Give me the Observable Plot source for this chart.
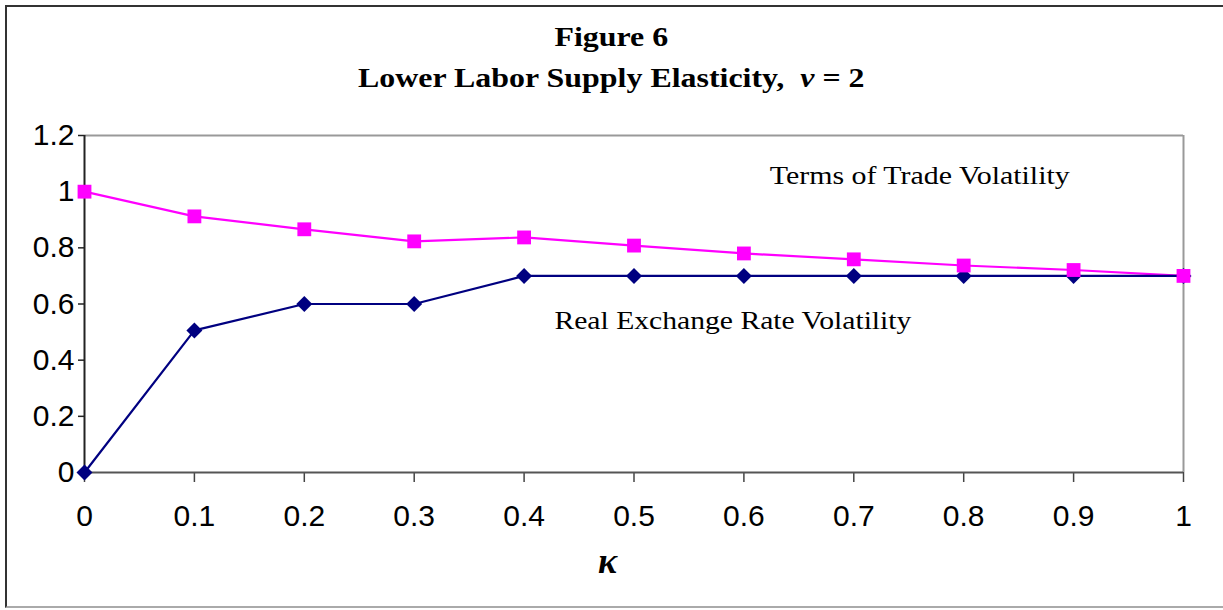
<!DOCTYPE html>
<html>
<head>
<meta charset="utf-8">
<script src="https://cdn.jsdelivr.net/npm/d3@7"></script>
<script src="https://cdn.jsdelivr.net/npm/@observablehq/plot@0.6"></script>
<style>
  html, body { margin: 0; padding: 0; background: #fff; }
  #wrap { position: relative; width: 1223px; height: 610px; overflow: hidden; background:#fff; }
  #frame { position: absolute; left: 5px; top: 5px; width: 1240px; height: 603px;
           border-top: 2px solid #333; border-left: 2px solid #333; border-bottom: 2px solid #aaa; box-sizing: border-box; }
  #title { position: absolute; left: 0; top: 0; width: 1223px; height: 110px; text-align: center;
           font-family: "Liberation Serif", "Times New Roman", serif; font-weight: bold; font-size: 28px; color: #000; }
  #title .l1, #title .l2 { position: absolute; left: 0; right: 0; line-height: 32px; transform: scaleX(1.14); transform-origin: 613px 50%; }
  #title .l1 { top: 21px; }
  #title .l2 { top: 62px; }
  #chart { position: absolute; left: 0; top: 110px; }
  #chart svg { overflow: visible; }
</style>
</head>
<body>
<div id="wrap">
  <div id="frame"></div>
  <div id="title">
    <div class="l1">Figure 6</div>
    <div class="l2">Lower Labor Supply Elasticity,&nbsp; <span style="font-style:italic;font-weight:bold">ν</span> = 2</div>
  </div>
  <div id="chart"></div>
</div>
<script>
const kappa = [0, 0.1, 0.2, 0.3, 0.4, 0.5, 0.6, 0.7, 0.8, 0.9, 1.0];
const termsOfTrade = [1.0, 0.912, 0.866, 0.823, 0.837, 0.808, 0.780, 0.759, 0.737, 0.721, 0.700];
const realExchangeRate = [0, 0.506, 0.600, 0.600, 0.700, 0.700, 0.700, 0.700, 0.700, 0.700, 0.700];
const xTicks = [0, 0.1, 0.2, 0.3, 0.4, 0.5, 0.6, 0.7, 0.8, 0.9, 1];
const yTicks = [0, 0.2, 0.4, 0.6, 0.8, 1, 1.2];
const seriesLabels = ["Terms of Trade Volatility", "Real Exchange Rate Volatility"];
const labelX = [0.76, 0.59];
const labelY = [1.058, 0.541];
const labelWidths = [300, 357];
const xAxisTitle = "κ";
const xAxisTitleX = 0.476;

const tot = kappa.map((k, i) => ({k, v: termsOfTrade[i]}));
const rer = kappa.map((k, i) => ({k, v: realExchangeRate[i]}));
const labels = seriesLabels.map((t, i) => ({t, x: labelX[i], y: labelY[i]}));

const plot = Plot.plot({
  width: 1223,
  height: 500,
  marginTop: 25,
  marginBottom: 138,
  marginLeft: 84,
  marginRight: 40,
  style: {background: "transparent", fontFamily: "'Liberation Sans', Arial, sans-serif", fontSize: "30px", color: "#000"},
  x: {domain: [0, 1]},
  y: {domain: [0, 1.2]},
  marks: [
    Plot.ruleY([1.2], {stroke: "#999", strokeWidth: 2}),
    Plot.ruleX([1], {stroke: "#999", strokeWidth: 2}),
    Plot.axisY({ticks: yTicks, tickSize: 6, tickPadding: 4, tickFormat: d3.format("~g"), label: null, stroke: "#222", strokeWidth: 1.5, fontSize: 30}),
    Plot.axisX({ticks: xTicks, tickSize: 10, tickPadding: 22, tickFormat: d3.format("~g"), label: null, stroke: "#444", strokeWidth: 1.5, fontSize: 30}),
    Plot.ruleY([0], {stroke: "#555", strokeWidth: 2}),
    Plot.ruleX([0], {stroke: "#222", strokeWidth: 2}),
    Plot.line(tot, {x: "k", y: "v", stroke: "#FF00FF", strokeWidth: 2.2}),
    Plot.line(rer, {x: "k", y: "v", stroke: "#000080", strokeWidth: 2.2}),
    Plot.dot(rer, {x: "k", y: "v", symbol: "diamond2", r: 7.2, fill: "#000080", stroke: "none"}),
    Plot.dot(tot, {x: "k", y: "v", symbol: "square", r: 7.8, fill: "#FF00FF", stroke: "none"}),
    Plot.text(labels, {x: "x", y: "y", text: "t", fontFamily: "'Liberation Serif', 'Times New Roman', serif", fontSize: 26, fill: "#000", textAnchor: "middle", className: "series-label"}),
    Plot.text([xAxisTitle], {x: [xAxisTitleX], frameAnchor: "bottom", dy: 100, fontFamily: "'Liberation Serif', 'Times New Roman', serif", fontStyle: "italic", fontWeight: "bold", fontSize: 36, fill: "#000"})
  ]
});
// stretch annotation text horizontally like the reference
d3.select(plot).selectAll("g.series-label text").each(function(d, i) {
  this.setAttribute("textLength", labelWidths[i]);
  this.setAttribute("lengthAdjust", "spacingAndGlyphs");
});
document.getElementById("chart").appendChild(plot);
</script>
</body>
</html>
